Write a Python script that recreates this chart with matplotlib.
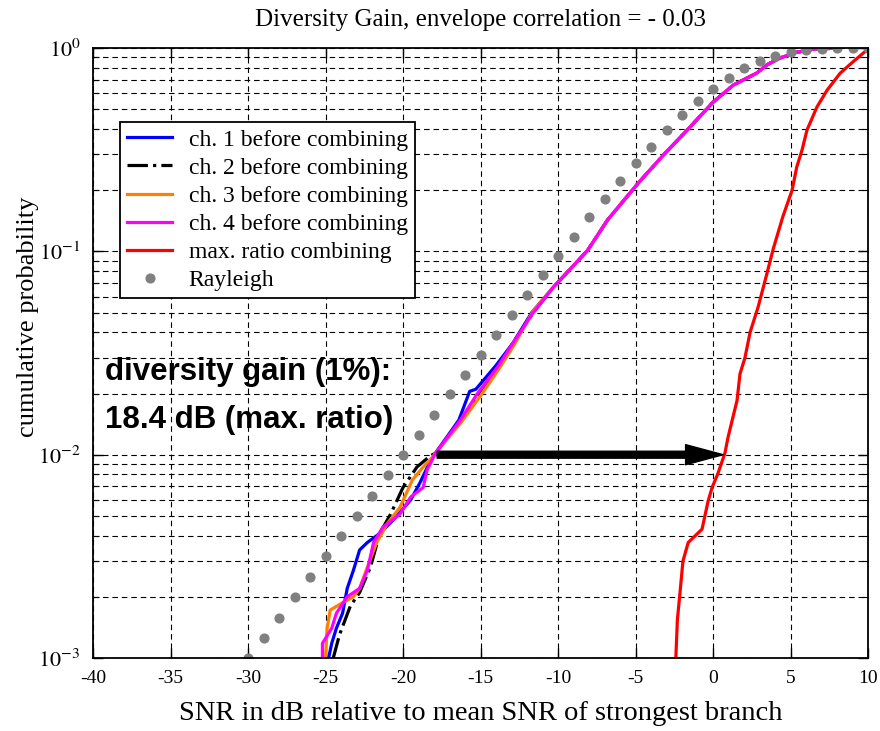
import numpy as np
import matplotlib.pyplot as plt
from matplotlib.ticker import LogLocator, NullFormatter, FuncFormatter

plt.rcParams['font.family'] = ['Liberation Serif', 'DejaVu Serif']
plt.rcParams['mathtext.fontset'] = 'stix'
plt.rcParams['axes.unicode_minus'] = False

# data (x in dB, y = cumulative probability)
ch1_x = [-24.8, -24.6, -24.3, -23.9, -23.6, -23.2, -22.8, -22.3, -21.5, -20.6, -19.5, -18.9, -18.3, -17.9,
         -16.4, -15.7, -15.3, -14.0, -12.9, -11.7, -10.3, -8.1, -6.8, -4.8, -3.2, -1.5, 0.0, 1.3, 2.8, 3.5, 4.3, 5.4, 6.5, 8.0]
ch1_y = [0.001, 0.00118, 0.0014, 0.00166, 0.0022, 0.0027, 0.0034, 0.0037, 0.0041, 0.0048, 0.006, 0.0073, 0.0091, 0.0102,
         0.0148, 0.0205, 0.021, 0.0275, 0.0355, 0.050, 0.0667, 0.101, 0.143, 0.218, 0.298, 0.408, 0.542, 0.658, 0.753, 0.83, 0.893, 0.955, 0.99, 1.0]

ch2_x = [-24.5, -24.1, -23.4, -22.8, -22.1, -21.5, -20.8, -20.0, -19.1, -18.3, -17.9,
         -16.3, -15.1, -13.9, -12.9, -11.6, -10.3, -8.1, -6.8, -4.8, -3.2, -1.5, 0.0, 1.3, 2.8, 3.5, 4.3, 5.4, 6.5, 8.0]
ch2_y = [0.001, 0.0013, 0.0018, 0.0021, 0.0028, 0.0041, 0.0051, 0.0069, 0.0087, 0.0098, 0.0102,
         0.0146, 0.0198, 0.0265, 0.0355, 0.050, 0.0667, 0.101, 0.143, 0.218, 0.298, 0.408, 0.542, 0.658, 0.753, 0.83, 0.893, 0.955, 0.99, 1.0]

ch3_x = [-25.0, -24.9, -24.7, -23.9, -23.2, -22.8, -22.3, -21.7, -21.0, -20.2, -19.4, -18.7, -18.06, -17.9,
         -16.2, -15.0, -13.8, -12.8, -11.6, -10.3, -8.1, -6.8, -4.8, -3.2, -1.5, 0.0, 1.3, 2.8, 3.5, 4.3, 5.4, 6.5, 8.0]
ch3_y = [0.001, 0.0014, 0.00172, 0.00187, 0.002, 0.0022, 0.0028, 0.0037, 0.0046, 0.0055, 0.0075, 0.0087, 0.0098, 0.0102,
         0.0146, 0.0195, 0.0265, 0.035, 0.051, 0.0667, 0.101, 0.143, 0.218, 0.298, 0.408, 0.542, 0.658, 0.753, 0.83, 0.893, 0.955, 0.99, 1.0]

ch4_x = [-25.2, -25.2, -24.6, -24.3, -23.6, -22.8, -22.3, -21.9, -21.3, -20.2, -19.5, -18.7, -18.45, -17.9,
         -16.3, -15.2, -13.9, -12.9, -11.6, -10.3, -8.1, -6.8, -4.8, -3.2, -1.5, 0.0, 1.3, 2.8, 3.5, 4.3, 5.4, 6.5, 8.0]
ch4_y = [0.001, 0.00118, 0.0014, 0.00166, 0.002, 0.0022, 0.0027, 0.0037, 0.0044, 0.0051, 0.0062, 0.0069, 0.0084, 0.0102,
         0.0148, 0.020, 0.027, 0.0355, 0.050, 0.0667, 0.101, 0.143, 0.218, 0.298, 0.408, 0.542, 0.658, 0.753, 0.83, 0.893, 0.955, 0.99, 1.0]

mrc_x = [-2.4, -2.3, -2.13, -1.94, -1.6, -0.71, -0.32, -0.06, 0.32, 0.77, 0.97, 1.55, 1.74, 2.06, 2.39, 2.9,
         3.48, 3.87, 4.5, 5.1, 5.4, 5.74, 6.06, 6.7, 7.35, 8.2, 9.0, 10.0]
mrc_y = [0.001, 0.00154, 0.0021, 0.003, 0.0037, 0.0043, 0.0059, 0.0069, 0.0081, 0.0102, 0.0122, 0.0185, 0.025, 0.030, 0.040, 0.053,
         0.078, 0.102, 0.148, 0.20, 0.26, 0.315, 0.395, 0.513, 0.62, 0.753, 0.853, 0.99]

ray_x = list(range(-30, 11))
ray_y = [0.0010, 0.00126, 0.00158, 0.00199, 0.00251, 0.00316, 0.00397, 0.00500, 0.00629, 0.00791,
         0.00995, 0.0125, 0.0157, 0.0198, 0.0248, 0.0311, 0.0390, 0.0489, 0.0612, 0.0764,
         0.0952, 0.118, 0.147, 0.181, 0.222, 0.271, 0.328, 0.394, 0.468, 0.548,
         0.632, 0.716, 0.795, 0.864, 0.919, 0.958, 0.981, 0.993, 0.998, 0.9996, 1.0]

gain_start = -17.8
gain_end = 0.65

fig = plt.figure(figsize=(8.8, 7.31), dpi=100)
ax = fig.add_axes([0.1057, 0.0999, 0.8807, 0.8342])

lw = 2.3
ax.plot(ch1_x, ch1_y, color='#0000ff', lw=lw, label='ch. 1 before combining')
ax.plot(ch2_x, ch2_y, color='black', lw=lw, ls='-.', label='ch. 2 before combining')
ax.plot(ch3_x, ch3_y, color='#ff8000', lw=lw, label='ch. 3 before combining')
ax.plot(ch4_x, ch4_y, color='#ff00ff', lw=lw, label='ch. 4 before combining')
ax.plot(mrc_x, mrc_y, color='#ff0000', lw=lw, label='max. ratio combining')
ax.plot(ray_x, ray_y, ls='none', marker='o', ms=6.3, color='#808080', label='Rayleigh')

ax.set_yscale('log')
ax.set_xlim(-40, 10)
ax.set_ylim(1e-3, 1)
ax.set_xticks(np.arange(-40, 11, 5))
ax.yaxis.set_major_locator(LogLocator(base=10, numticks=10))
ax.yaxis.set_major_formatter(FuncFormatter(lambda v, p: r'$10^{%d}$' % round(np.log10(v))))
ax.yaxis.set_minor_locator(LogLocator(base=10, subs=np.arange(2, 10), numticks=10))
ax.yaxis.set_minor_formatter(NullFormatter())

dash = (0, (5, 3.5))
ax.grid(True, which='major', color='black', lw=0.8, ls=dash)
ax.grid(True, which='minor', axis='y', color='black', lw=0.8, ls=dash)
ax.set_axisbelow(True)

ax.tick_params(which='both', direction='in', top=True, right=True)
ax.tick_params(axis='x', labelsize=14, pad=9)
ax.tick_params(axis='y', labelsize=16, pad=9)
ax.tick_params(which='major', length=7, width=1)
ax.tick_params(which='minor', length=4, width=0.8)
for s in ax.spines.values():
    s.set_linewidth(1.3)

ax.set_title('Diversity Gain, envelope correlation = - 0.03', fontsize=18, pad=16)
ax.set_xlabel('SNR in dB relative to mean SNR of strongest branch', fontsize=20.5, labelpad=10)
ax.set_ylabel('cumulative probability', fontsize=19)
ax.yaxis.set_label_coords(-0.07, 0.56)

ax.annotate('', xy=(gain_end, 0.01), xytext=(gain_start, 0.01),
            arrowprops=dict(arrowstyle='simple,head_length=2.7,head_width=1.45,tail_width=0.5',
                            color='black', mutation_scale=10, shrinkA=0, shrinkB=0))
ax.text(-39.2, 0.0255, 'diversity gain (1%):', fontsize=22.5, fontweight='bold',
        family='Liberation Sans', va='center', ha='left')
ax.text(-39.2, 0.0148, '18.4 dB (max. ratio)', fontsize=22.5, fontweight='bold',
        family='Liberation Sans', va='center', ha='left')

leg = ax.legend(loc='upper left', bbox_to_anchor=(0.035, 0.879), borderaxespad=0,
                fontsize=17, handlelength=1.9, handletextpad=0.7, labelspacing=0.28,
                borderpad=0.3, fancybox=False, framealpha=1, edgecolor='black')
leg.get_frame().set_linewidth(1.3)

fig.savefig('out.png', dpi=100)
